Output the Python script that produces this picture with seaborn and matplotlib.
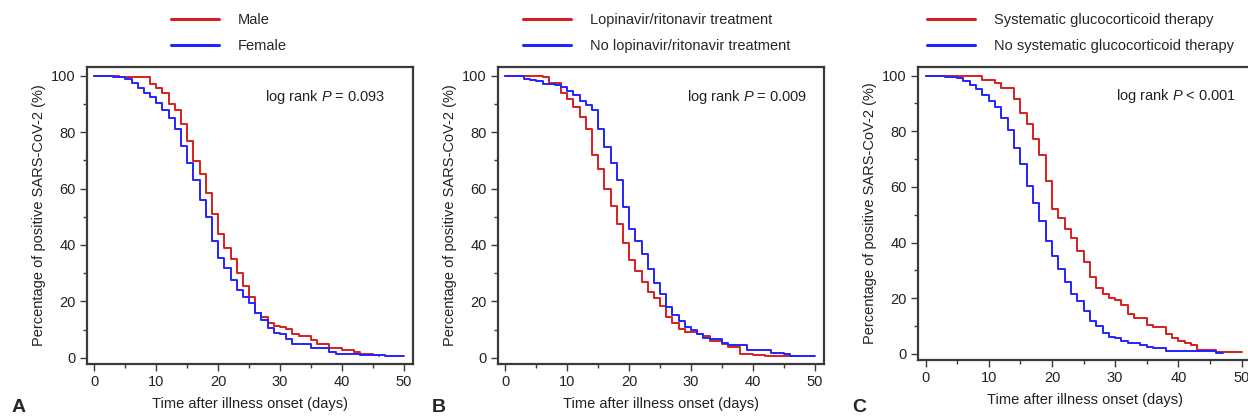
import matplotlib
matplotlib.use("Agg")
import matplotlib.pyplot as plt
import seaborn as sns
from matplotlib.ticker import MultipleLocator
from matplotlib.lines import Line2D

# Panel A: sex
a_male_t = [0, 4, 9, 10, 11, 12, 13, 14, 15, 16, 17, 18, 19, 20, 21, 22, 23, 24, 25, 26,
            27, 28, 29, 30, 31, 32, 33, 35, 36, 38, 40, 42, 43, 45, 46]
a_male_s = [100, 99.5, 97, 95.5, 94, 90, 88, 83, 77, 69.6, 65, 58.5, 51, 44, 39, 35, 30, 25.6,
            21.4, 16, 14.3, 12.4, 11.2, 10.8, 10.3, 8.5, 7.6, 6.3, 5, 3.4, 2.7, 2, 1.4, 1, 0.5]
a_female_t = [0, 3, 5, 6, 7, 8, 9, 10, 11, 12, 13, 14, 15, 16, 17, 18, 19, 20, 21, 22, 23,
              24, 25, 26, 27, 28, 29, 30, 31, 32, 35, 38, 39, 43, 47, 50]
a_female_s = [100, 99.5, 99, 97.5, 95.5, 94, 92.5, 90.5, 88, 85, 81, 75, 69, 63, 56, 50, 41.5,
              35.5, 32, 27.5, 24, 21.7, 19.5, 16, 13.5, 10.5, 8.8, 8.4, 6.8, 5, 3.6, 2, 1.3,
              0.9, 0.5, 0.5]

# Panel B: lopinavir/ritonavir
b_lpv_t = [0, 6, 7, 9, 10, 11, 12, 13, 14, 15, 16, 17, 18, 19, 20, 21, 22, 23, 24, 25, 26,
           27, 28, 29, 31, 32, 33, 35, 36, 38, 40, 42, 47]
b_lpv_s = [100, 99.5, 97.5, 94, 91.7, 89, 85.5, 81, 72, 67, 59.8, 53.7, 47.3, 40.8, 34.6,
           30.6, 26.7, 23.2, 21.2, 18.2, 14.3, 12.5, 10.2, 9, 8.6, 7.8, 6, 4.8, 4, 1.5, 1.1,
           0.6, 0.6]
b_nolpv_t = [0, 3, 4, 5, 6, 8, 9, 10, 11, 12, 13, 14, 15, 16, 17, 18, 19, 20, 21, 22, 23, 24,
             25, 26, 27, 28, 29, 30, 31, 32, 33, 35, 36, 39, 43, 45, 46, 50]
b_nolpv_s = [100, 99, 98.5, 98, 97.2, 96.8, 96, 94.5, 93, 91, 89.5, 87.8, 81, 74.8, 69, 63,
             53.5, 45.5, 41.3, 36.8, 31.6, 26.6, 22.6, 18, 15, 12.9, 11, 10, 8.6, 7, 6.5, 5.2,
             4.6, 2.8, 1.8, 1.2, 0.6, 0.6]

# Panel C: systematic glucocorticoid therapy
c_gc_t = [0, 9, 11, 12, 14, 15, 16, 17, 18, 19, 20, 21, 22, 23, 24, 25, 26, 27, 28, 29, 30,
          31, 32, 33, 35, 36, 38, 39, 40, 41, 42, 43, 46, 50]
c_gc_s = [100, 98.5, 97.4, 95.5, 91.5, 86.5, 82.5, 77.2, 71.3, 62, 52, 49, 45, 41.5, 36.8,
          33, 27.5, 23.8, 21.4, 20, 19.3, 17.5, 14.3, 12.8, 10.5, 9.6, 7.2, 5.8, 4.8, 4, 3.3,
          1.5, 0.8, 0.8]
c_nogc_t = [0, 3, 5, 6, 7, 8, 9, 10, 11, 12, 13, 14, 15, 16, 17, 18, 19, 20, 21, 22, 23, 24,
            25, 26, 27, 28, 29, 30, 31, 32, 34, 35, 36, 38, 46, 47]
c_nogc_s = [100, 99.5, 99, 98, 96.5, 95.2, 93, 91, 88.7, 84.8, 80.6, 74, 68.2, 60.2, 54.2,
            47.8, 40.5, 35, 30.5, 26, 21.6, 19, 15.5, 11.7, 10, 7.5, 6.2, 5.6, 4.8, 3.8, 3.3,
            2.5, 2, 0.9, 0.4, 0.4]

panels = [
    ("A", a_male_t, a_male_s, a_female_t, a_female_s,
     ["Male", "Female"], "log rank $\\it{P}$ = 0.093"),
    ("B", b_lpv_t, b_lpv_s, b_nolpv_t, b_nolpv_s,
     ["Lopinavir/ritonavir treatment", "No lopinavir/ritonavir treatment"],
     "log rank $\\it{P}$ = 0.009"),
    ("C", c_gc_t, c_gc_s, c_nogc_t, c_nogc_s,
     ["Systematic glucocorticoid therapy", "No systematic glucocorticoid therapy"],
     "log rank $\\it{P}$ < 0.001"),
]

RED = "#d81e1e"
BLUE = "#2323ff"
SPINE = "#3a3a3a"

sns.set_style("ticks")
plt.rcParams["font.family"] = ["Liberation Sans", "DejaVu Sans"]
plt.rcParams["mathtext.fontset"] = "custom"
plt.rcParams["mathtext.it"] = "Liberation Sans:italic"
plt.rcParams["mathtext.rm"] = "Liberation Sans"

W, H = 1248, 417
fig = plt.figure(figsize=(W / 100, H / 100), dpi=100)

# axes boxes in pixels: left, top, right, bottom
boxes = [(87, 67, 413, 364), (498, 67, 824, 364), (918, 67, 1251, 360)]
legend_x = [175, 527, 931]
letter_x = [12, 432, 852]
ptext_x = [0.917, 0.948, 0.955]

for (letter, t1, s1, t2, s2, labels, ptxt), (l, t, r, b), lx, px, tx in zip(
        panels, boxes, legend_x, letter_x, ptext_x):
    ax = fig.add_axes([l / W, 1 - b / H, (r - l) / W, (b - t) / H])
    sns.lineplot(x=t1, y=s1, ax=ax, color=RED, lw=1.4, drawstyle="steps-post")
    sns.lineplot(x=t2, y=s2, ax=ax, color=BLUE, lw=1.4, drawstyle="steps-post")
    ax.set_xlim(-1.2, 51.5)
    ax.set_ylim(-2.2, 103.1)
    ax.xaxis.set_major_locator(MultipleLocator(10))
    ax.xaxis.set_minor_locator(MultipleLocator(5))
    ax.yaxis.set_major_locator(MultipleLocator(20))
    ax.yaxis.set_minor_locator(MultipleLocator(10))
    ax.tick_params(which="major", length=5, width=1, color=SPINE, labelsize=10.5,
                   labelcolor="#222222", pad=3)
    ax.tick_params(which="minor", length=3, width=1, color=SPINE)
    for sp in ax.spines.values():
        sp.set_visible(True)
        sp.set_color(SPINE)
        sp.set_linewidth(1.6)
    ax.set_xlabel("Time after illness onset (days)", fontsize=10.5, color="#222222",
                  labelpad=6)
    ax.set_ylabel("Percentage of positive SARS-CoV-2 (%)", fontsize=10.5,
                  color="#222222", labelpad=4)
    ax.text(tx, 0.90, ptxt, transform=ax.transAxes, ha="right", va="center",
            fontsize=10.5, color="#222222")

    # legend above the panel
    handles = [Line2D([0], [0], color=RED, lw=2.2), Line2D([0], [0], color=BLUE, lw=2.2)]
    fig.legend(handles, labels, loc="upper left",
               bbox_to_anchor=((lx - 10) / W, 1 - 7 / H), frameon=False,
               fontsize=10.5, handlelength=3.3, handletextpad=1.3, labelspacing=0.85,
               borderaxespad=0)

    fig.text(px / W, 1 - 408 / H, letter, fontsize=14, fontweight="bold",
             ha="left", va="center")

fig.savefig("out.png", dpi=100)
